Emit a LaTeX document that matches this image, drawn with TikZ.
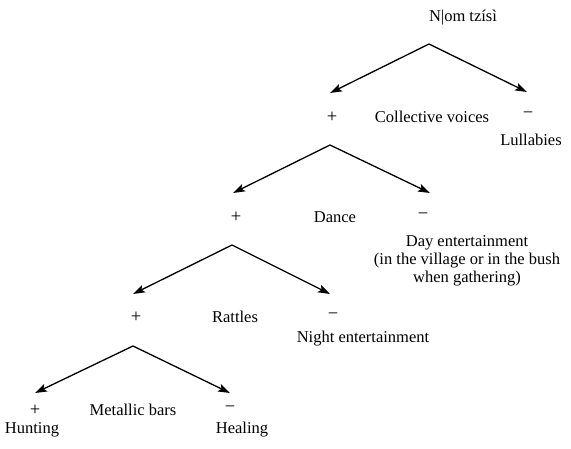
\documentclass[tikz,border=0pt]{standalone}
\usepackage{fontspec}
\setmainfont{Liberation Serif}
\usetikzlibrary{arrows.meta}
\begin{document}
\begin{tikzpicture}[x=1pt,y=-1pt,
  lbl/.style={inner sep=0pt,font=\fontsize{16.5}{19}\selectfont},
  sgn/.style={inner sep=0pt,font=\fontsize{18.5}{20}\selectfont},
  arr/.style={line width=1.3pt,-{Stealth[length=12pt,width=8pt,inset=2.5pt]}}]
\useasboundingbox (0,0) rectangle (571,449);
% texts
\node[lbl] (root) at (463,18) {N|om tzísì};
\node[sgn] (p1) at (332,117) {+};
\node[lbl] (c1) at (432,117) {Collective voices};
\node[sgn] (m1) at (528,115) {−};
\node[lbl] (lul) at (531,140) {Lullabies};
\node[sgn] (p2) at (236,217) {+};
\node[lbl] (c2) at (335,217) {Dance};
\node[sgn] (m2) at (423,216) {−};
\node[lbl,align=center,font=\fontsize{16.5}{18}\selectfont] (day) at (467,261) {Day entertainment\\(in the village or in the bush\\when gathering)};
\node[sgn] (p3) at (136,317) {+};
\node[lbl] (c3) at (235,317) {Rattles};
\node[sgn] (m3) at (333,316) {−};
\node[lbl] (night) at (363,339) {Night entertainment};
\node[sgn] (p4) at (35,410) {+};
\node[lbl] (c4) at (133,410) {Metallic bars};
\node[sgn] (m4) at (230,409) {−};
\node[lbl] (hunt) at (32,430) {Hunting};
\node[lbl] (heal) at (242,430) {Healing};
% apices and tips
\coordinate (a1) at (429,44);
\coordinate (l1) at (330,93);
\coordinate (r1) at (527,92);
\coordinate (a2) at (330,145);
\coordinate (l2) at (233,193);
\coordinate (r2) at (430,193);
\coordinate (a3) at (232,245);
\coordinate (l3) at (133,294);
\coordinate (r3) at (330,294);
\coordinate (a4) at (133,346);
\coordinate (l4) at (35,393);
\coordinate (r4) at (230,393);
\draw[arr] (a1) -- (l1);
\draw[arr] (a1) -- (r1);
\draw[arr] (a2) -- (l2);
\draw[arr] (a2) -- (r2);
\draw[arr] (a3) -- (l3);
\draw[arr] (a3) -- (r3);
\draw[arr] (a4) -- (l4);
\draw[arr] (a4) -- (r4);
\end{tikzpicture}
\end{document}
